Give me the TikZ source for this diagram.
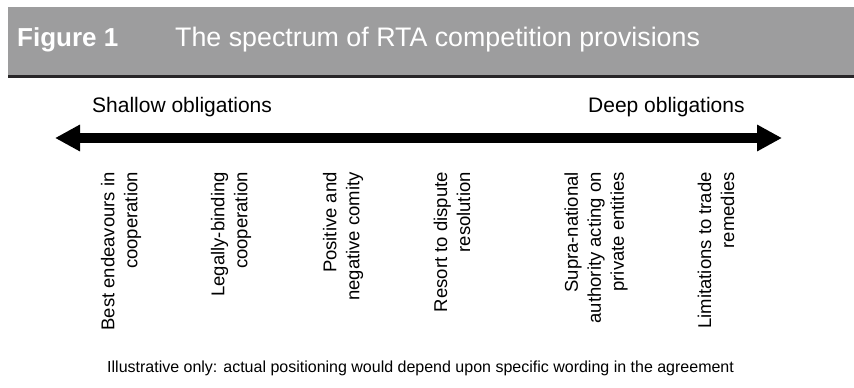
\documentclass[tikz,border=0pt]{standalone}
\usepackage{fontspec}
\setmainfont{Liberation Sans}
\usetikzlibrary{arrows.meta}

\definecolor{bandgray}{RGB}{157,157,158}
\definecolor{rulegray}{RGB}{40,38,40}

\begin{document}
\begin{tikzpicture}[x=1pt, y=-1pt,
      title_text/.style ={anchor=base west, inner sep=0pt, text=white},
      end_label/.style ={anchor=base west, inner sep=0pt,
        font=\fontsize{21}{25}\selectfont},
      block_vert/.style ={rotate=90, anchor=east, inner sep=0pt,
        align=right, font=\fontsize{18.5}{23}\selectfont},
      note_text/.style ={anchor=base west, inner sep=0pt,
        font=\fontsize{16}{19}\selectfont},
      line/.style ={draw, line width=9.5pt,
        {Triangle[length=25pt,width=25pt]}-{Triangle[length=25pt,width=25pt]}}]
    \useasboundingbox (0,0) rectangle (854,388);
    %
    % 1. heading band
    \fill[bandgray] (8,7) rectangle (854,75);
    \fill[rulegray] (8,75) rectangle (854,77.5);
    \node [title_text, font=\bfseries\fontsize{26}{31}\selectfont] (fig_no) at (17,46) {Figure 1};
    \node [title_text, font=\fontsize{26.8}{32}\selectfont] (fig_title) at (175,46) {The spectrum of RTA competition provisions};
    %
    % 2. the scale and its two ends
    \node [end_label] (shallow) at (92,112) {Shallow obligations};
    \node [end_label] (deep) at (588,112) {Deep obligations};
    \coordinate (left_end) at (55,138);
    \coordinate (right_end) at (782,138);
    \path [line] (left_end) -- (right_end);
    %
    % 3. provisions along the scale
    \node [block_vert] (best_eff) at (121,172) {Best endeavours in\\cooperation};
    \node [block_vert] (legal_coop) at (231,172) {Legally-binding\\cooperation};
    \node [block_vert] (comity) at (343,172) {Positive and\\negative comity};
    \node [block_vert] (dispute) at (452,172) {Resort to dispute\\resolution};
    \node [block_vert] (supra_auth) at (596,172) {Supra-national\\authority acting on\\private entities};
    \node [block_vert] (trade_rem) at (716,172) {Limitations to trade\\remedies};
    %
    % 4. footnote
    \node [note_text] (note) at (107,372) {Illustrative only: actual positioning would depend upon specific wording in the agreement};
  \end{tikzpicture}
\end{document}
